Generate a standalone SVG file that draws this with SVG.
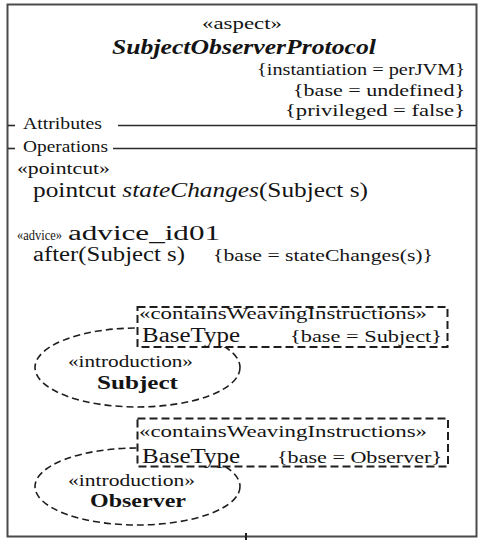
<svg xmlns="http://www.w3.org/2000/svg" width="480" height="540" viewBox="0 0 480 540">
  <style>
    text { font-family: "Liberation Serif", Tinos, "Times New Roman", "DejaVu Serif", serif; fill: #141414; }
    .st { font-size: 17px; }
    .md { font-size: 20px; }
    .sm { font-size: 16px; }
    .xs { font-size: 14px; }
    .title { font-size: 22px; font-weight: bold; font-style: italic; }
    .bold { font-size: 19px; font-weight: bold; }
    .frame { fill: #ffffff; stroke: #4a4a4a; stroke-width: 2; }
    .sep { stroke: #2a2a2a; stroke-width: 1.6; }
    .weave { fill: #ffffff; stroke: #1e1e1e; stroke-width: 2; stroke-dasharray: 8 4; }
    .intro { fill: none; stroke: #1e1e1e; stroke-width: 1.6; stroke-dasharray: 7 4; }
  </style>

  <rect width="480" height="540" fill="#ffffff"/>

  <g font-family="'Liberation Serif', Tinos, 'Times New Roman', 'DejaVu Serif', serif">
  <!-- aspect classifier frame -->
  <g id="aspect">
    <rect class="frame" x="7.5" y="4.5" width="469" height="532"/>
    <text class="st" x="202" y="29" textLength="80" lengthAdjust="spacingAndGlyphs">«aspect»</text>
    <text class="title" x="112" y="54" textLength="264" lengthAdjust="spacingAndGlyphs">SubjectObserverProtocol</text>
    <text class="st" x="257" y="75" textLength="208" lengthAdjust="spacingAndGlyphs">{instantiation = perJVM}</text>
    <text class="st" x="293" y="95.5" textLength="172" lengthAdjust="spacingAndGlyphs">{base = undefined}</text>
    <text class="st" x="285" y="116" textLength="180" lengthAdjust="spacingAndGlyphs">{privileged = false}</text>

    <!-- compartment separators -->
    <line class="sep" x1="8" y1="125.5" x2="15" y2="125.5"/>
    <text class="sm" x="23" y="128.5" textLength="79" lengthAdjust="spacingAndGlyphs">Attributes</text>
    <line class="sep" x1="118" y1="125.5" x2="476" y2="125.5"/>
    <line class="sep" x1="8" y1="148.5" x2="15" y2="148.5"/>
    <text class="sm" x="23" y="152" textLength="85" lengthAdjust="spacingAndGlyphs">Operations</text>
    <line class="sep" x1="113" y1="148.5" x2="476" y2="148.5"/>

    <!-- operations -->
    <text class="st" x="17" y="174" textLength="93" lengthAdjust="spacingAndGlyphs">«pointcut»</text>
    <text class="md" x="33" y="197" textLength="335" lengthAdjust="spacingAndGlyphs">pointcut <tspan font-style="italic">stateChanges</tspan>(Subject s)</text>
    <text class="xs" x="17" y="240" textLength="45" lengthAdjust="spacingAndGlyphs">«advice»</text>
    <text class="md" x="68" y="240" textLength="152" lengthAdjust="spacingAndGlyphs">advice_id01</text>
    <text class="md" x="33" y="261" textLength="152" lengthAdjust="spacingAndGlyphs">after(Subject s)</text>
    <text class="st" x="213" y="261" textLength="220" lengthAdjust="spacingAndGlyphs">{base = stateChanges(s)}</text>
  </g>

  <!-- introduction of Subject -->
  <g id="intro-subject">
    <ellipse class="intro" cx="137.5" cy="367.5" rx="102.5" ry="39.5"/>
    <rect class="weave" x="137.5" y="307" width="310" height="40"/>
    <text class="st" x="139" y="319" textLength="288" lengthAdjust="spacingAndGlyphs">«containsWeavingInstructions»</text>
    <text class="md" x="142" y="342" textLength="98" lengthAdjust="spacingAndGlyphs">BaseType</text>
    <text class="st" x="290" y="342" textLength="152" lengthAdjust="spacingAndGlyphs">{base = Subject}</text>
    <text class="st" x="68" y="367" textLength="125" lengthAdjust="spacingAndGlyphs">«introduction»</text>
    <text class="bold" x="97" y="389" textLength="81" lengthAdjust="spacingAndGlyphs">Subject</text>
  </g>

  <!-- introduction of Observer -->
  <g id="intro-observer">
    <ellipse class="intro" cx="137.5" cy="486.5" rx="102.5" ry="38.5"/>
    <rect class="weave" x="137.5" y="418.5" width="310.5" height="48"/>
    <text class="st" x="139" y="437" textLength="288" lengthAdjust="spacingAndGlyphs">«containsWeavingInstructions»</text>
    <text class="md" x="142" y="463" textLength="98" lengthAdjust="spacingAndGlyphs">BaseType</text>
    <text class="st" x="277" y="463" textLength="165" lengthAdjust="spacingAndGlyphs">{base = Observer}</text>
    <text class="st" x="68" y="486" textLength="127" lengthAdjust="spacingAndGlyphs">«introduction»</text>
    <text class="bold" x="90" y="507" textLength="96" lengthAdjust="spacingAndGlyphs">Observer</text>
  </g>
  </g>

  <!-- outgoing link stub at the bottom edge -->
  <g id="connectors">
    <line x1="246" y1="533" x2="246" y2="540" stroke="#1e1e1e" stroke-width="2"/>
  </g>
</svg>
